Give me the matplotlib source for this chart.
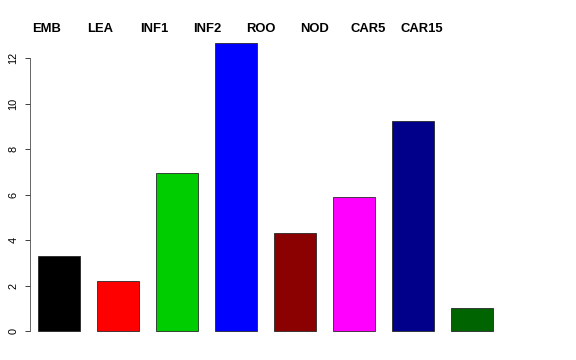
import numpy as np
import matplotlib
import matplotlib.pyplot as plt
import matplotlib.transforms as mtransforms

matplotlib.use('Agg')

# dados
categorias = ["EMB", "LEA", "INF1", "INF2", "ROO", "NOD", "CAR5", "CAR15"]
valores = [3.30, 2.20, 6.95, 12.66, 4.31, 5.89, 9.23, 1.01]
cores = ["#000000", "#FF0000", "#00CD00", "#0000FF",
         "#8B0000", "#FF00FF", "#00008B", "#006400"]
yticks = [0, 2, 4, 6, 8, 10, 12]

plt.rcParams['font.family'] = ['Liberation Sans', 'DejaVu Sans']

fig = plt.figure(figsize=(8, 5), dpi=72)
ax = fig.add_axes([0.0514, 0.0486, 0.820, 0.864])

# posições como no barplot do R (width=1, space=0.4)
x = 0.9 + 1.4 * np.arange(len(valores))
ax.bar(x, valores, width=1.0, color=cores, edgecolor='#222222', linewidth=0.8)

ax.set_xlim(0.2, 11.4)
ax.set_ylim(-0.506, 13.17)

for s in ['top', 'right', 'bottom']:
    ax.spines[s].set_visible(False)
ax.spines['left'].set_bounds(0, 12)
ax.spines['left'].set_color('#444444')
ax.set_xticks([])
ax.set_yticks(yticks)
ax.set_yticklabels([str(t) for t in yticks], rotation=90, va='center', fontsize=11)
ax.tick_params(axis='y', length=5, width=1, color='#444444', pad=6)

# rótulos no topo
trans = mtransforms.blended_transform_factory(ax.transData, fig.transFigure)
xl = 0.613 + 1.27 * np.arange(len(categorias))
for xi, nome in zip(xl, categorias):
    ax.text(xi, 1 - 29.5 / 360, nome, transform=trans,
            ha='center', va='center', fontsize=13, fontweight='bold')

fig.savefig("out.png", dpi=72)
